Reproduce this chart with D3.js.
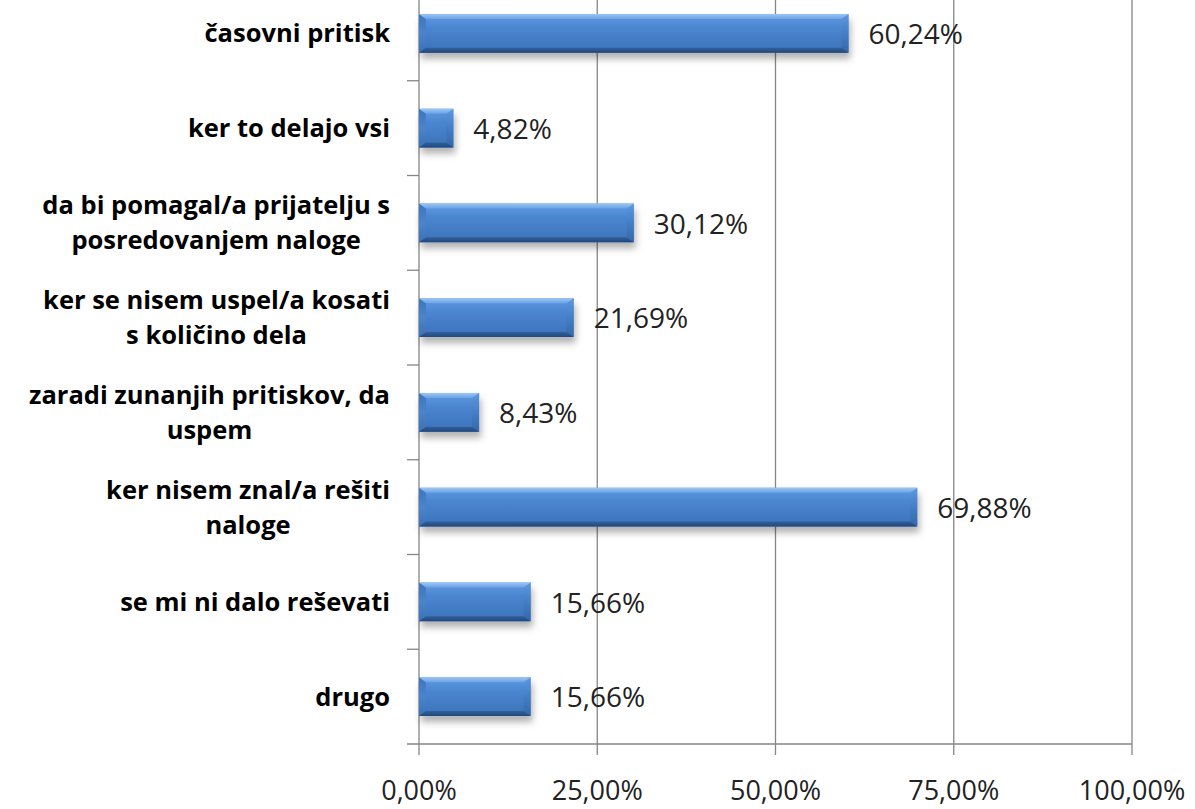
<!DOCTYPE html>
<html><head><meta charset="utf-8">
<script src="https://cdn.jsdelivr.net/npm/d3@7"></script>
<style>body{margin:0;background:#fff}svg{display:block}</style>
</head><body>
<svg id="c" width="1195" height="809"></svg>
<script>
const categories = [
  ["časovni pritisk"],
  ["ker to delajo vsi"],
  ["da bi pomagal/a prijatelju s","posredovanjem naloge"],
  ["ker se nisem uspel/a kosati","s količino dela"],
  ["zaradi zunanjih pritiskov, da","uspem"],
  ["ker nisem znal/a rešiti","naloge"],
  ["se mi ni dalo reševati"],
  ["drugo"]
];
const values = [60.24, 4.82, 30.12, 21.69, 8.43, 69.88, 15.66, 15.66];
const valueLabels = ["60,24%","4,82%","30,12%","21,69%","8,43%","69,88%","15,66%","15,66%"];
const xTicks = [0, 25, 50, 75, 100];
const xTickLabels = ["0,00%","25,00%","50,00%","75,00%","100,00%"];

const svg = d3.select("#c");
const x = d3.scaleLinear().domain([0,100]).range([419,1132]);
const y = d3.scaleBand().domain(d3.range(categories.length)).range([-14,744]).paddingInner(0.59).paddingOuter(0.295);
const gridColor = "#868686";
const defs = svg.append("defs");
function grad(id, stops){
  const g = defs.append("linearGradient").attr("id",id).attr("x1",0).attr("y1",0).attr("x2",0).attr("y2",1);
  stops.forEach(s=>g.append("stop").attr("offset",s[0]).attr("stop-color",s[1]));
}
grad("face",[["0%","#5f9ae2"],["35%","#4b86d0"],["100%","#3b72b8"]]);
grad("topf",[["0%","#9cc6f4"],["100%","#6ba3e6"]]);
grad("botf",[["0%","#31609c"],["100%","#22477a"]]);
grad("rightf",[["0%","#5f98de"],["45%","#4680c8"],["100%","#3567a8"]]);
grad("leftf",[["0%","#3d74bd"],["50%","#4a84cc"],["100%","#3b71b6"]]);
const f = defs.append("filter").attr("id","sh").attr("x","-10%").attr("y","-30%").attr("width","130%").attr("height","190%");
f.append("feDropShadow").attr("dx",2).attr("dy",6).attr("stdDeviation",3.5).attr("flood-color","#000").attr("flood-opacity",0.3);

// gridlines
svg.append("g").selectAll("line").data(xTicks).join("line")
  .attr("x1",d=>x(d)).attr("x2",d=>x(d)).attr("y1",-14).attr("y2",755)
  .attr("stroke",gridColor).attr("stroke-width",1.3);
// bottom axis line
svg.append("line").attr("x1",407).attr("x2",x(100)).attr("y1",744).attr("y2",744).attr("stroke",gridColor).attr("stroke-width",1.3);
// left band ticks
const step = y.step();
svg.append("g").selectAll("line").data(d3.range(1,categories.length)).join("line")
  .attr("x1",407).attr("x2",x(0)).attr("y1",k=>-14+k*step).attr("y2",k=>-14+k*step)
  .attr("stroke",gridColor).attr("stroke-width",1.3);

// bars
const bw = y.bandwidth(), b = 7, bt = 5, bb = 5;
const bars = svg.append("g").selectAll("g").data(values).join("g");
bars.append("rect").attr("x",x(0)).attr("y",(d,i)=>y(i)).attr("width",d=>x(d)-x(0)).attr("height",bw)
  .attr("fill","url(#face)").attr("filter","url(#sh)");
// left facet
bars.append("path").attr("d",(d,i)=>{const x0=x(0),y0=y(i);return `M${x0},${y0}L${x0+b},${y0+bt}L${x0+b},${y0+bw-bb}L${x0},${y0+bw}Z`;})
  .attr("fill","url(#leftf)");
// right facet
bars.append("path").attr("d",(d,i)=>{const x1=x(d),y0=y(i);return `M${x1},${y0}L${x1-b},${y0+bt}L${x1-b},${y0+bw-bb}L${x1},${y0+bw}Z`;})
  .attr("fill","url(#rightf)");
// top facet
bars.append("path").attr("d",(d,i)=>{const x0=x(0),x1=x(d),y0=y(i);return `M${x0},${y0}L${x1},${y0}L${x1-b},${y0+bt}L${x0+b},${y0+bt}Z`;})
  .attr("fill","url(#topf)");
// bottom facet
bars.append("path").attr("d",(d,i)=>{const x0=x(0),x1=x(d),y1=y(i)+bw;return `M${x0},${y1}L${x1},${y1}L${x1-b},${y1-bb}L${x0+b},${y1-bb}Z`;})
  .attr("fill","url(#botf)");

// value labels
svg.append("g").selectAll("text").data(values).join("text")
  .attr("x",d=>x(d)+20).attr("y",(d,i)=>y(i)+bw/2).attr("dy","0.38em")
  .attr("font-family","'Open Sans', sans-serif").attr("font-size",28).attr("fill","#222")
  .text((d,i)=>valueLabels[i]);

// category labels
const cat = svg.append("g").attr("font-family","'Open Sans', sans-serif").attr("font-size",25.5).attr("font-weight","bold").attr("fill","#000");
categories.forEach((lines,i)=>{
  const cy = y(i)+bw/2;
  if(lines.length===1){
    cat.append("text").attr("text-anchor","end").attr("x",390).attr("y",cy).attr("dy","0.35em").text(lines[0]);
  } else {
    const tmp = cat.append("text");
    const w = Math.max(...lines.map(l=>{tmp.text(l);return tmp.node().getComputedTextLength();}));
    tmp.remove();
    const cx = 390 - w/2;
    lines.forEach((l,j)=>{
      cat.append("text").attr("text-anchor","middle").attr("x",cx).attr("y",cy+(j-0.5)*35).attr("dy","0.35em").text(l);
    });
  }
});

// x tick labels
svg.append("g").selectAll("text").data(xTicks).join("text")
  .attr("x",d=>x(d)).attr("y",800).attr("text-anchor","middle")
  .attr("font-family","'Open Sans', sans-serif").attr("font-size",27).attr("fill","#222")
  .text((d,i)=>xTickLabels[i]);
</script>
</body></html>
